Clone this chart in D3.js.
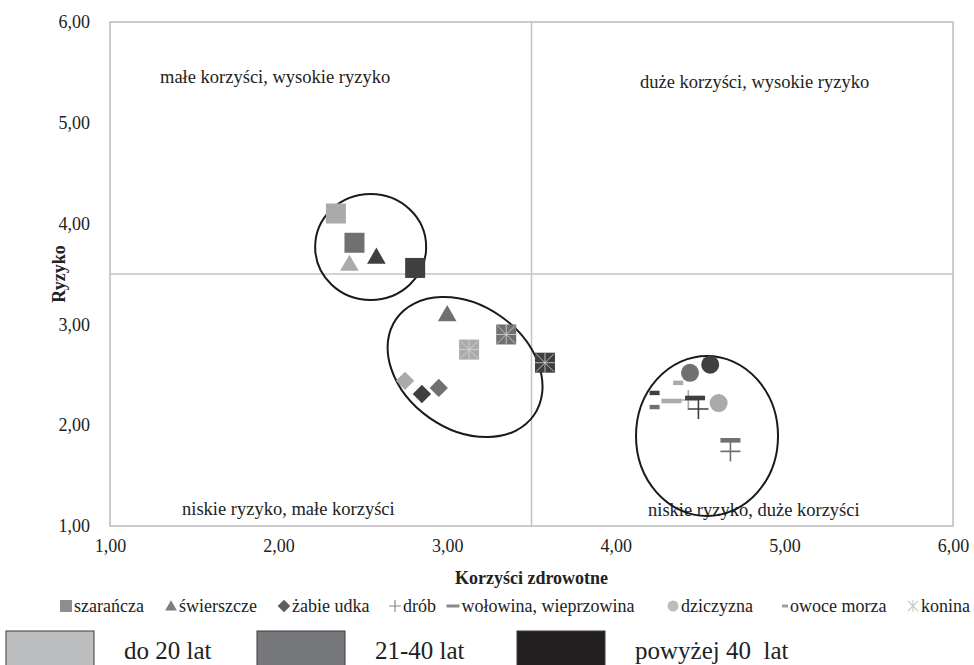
<!DOCTYPE html>
<html>
<head>
<meta charset="utf-8">
<script src="https://cdn.jsdelivr.net/npm/d3@7"></script>
<style>
  html, body { margin: 0; padding: 0; background: #fff; }
  svg { display: block; }
  svg text { font-family: "Liberation Serif", "Times New Roman", serif; }
</style>
</head>
<body>
<svg id="chart" width="974" height="665"></svg>
<script>
// Age groups (series) and product categories
const ageGroups = ["do 20 lat", "21-40 lat", "powyżej 40  lat"];
const products = ["szarańcza", "świerszcze", "żabie udka", "drób", "wołowina, wieprzowina", "dziczyzna", "owoce morza", "konina"];

// Health benefit (x) per product, one value per age group
const benefitSzarancza = [2.34, 2.45, 2.81];
const benefitSwierszcze = [2.42, 3.00, 2.58];
const benefitZabieUdka = [2.75, 2.95, 2.85];
const benefitDrob = [4.43, 4.68, 4.49];
const benefitWolowina = [4.33, 4.68, 4.47];
const benefitDziczyzna = [4.61, 4.44, 4.56];
const benefitOwoceMorza = [4.37, 4.23, 4.23];
const benefitKonina = [3.13, 3.35, 3.58];

// Risk (y) per product, one value per age group
const riskSzarancza = [4.10, 3.81, 3.56];
const riskSwierszcze = [3.60, 3.10, 3.67];
const riskZabieUdka = [2.44, 2.37, 2.31];
const riskDrob = [2.25, 1.74, 2.16];
const riskWolowina = [2.24, 1.85, 2.27];
const riskDziczyzna = [2.22, 2.52, 2.60];
const riskOwoceMorza = [2.42, 2.18, 2.32];
const riskKonina = [2.75, 2.90, 2.62];

const xTicks = [1, 2, 3, 4, 5, 6];
const yTicks = [1, 2, 3, 4, 5, 6];
const quadrantLabels = ["małe korzyści, wysokie ryzyko", "duże korzyści, wysokie ryzyko", "niskie ryzyko, małe korzyści", "niskie ryzyko, duże korzyści"];

const benefits = [benefitSzarancza, benefitSwierszcze, benefitZabieUdka, benefitDrob, benefitWolowina, benefitDziczyzna, benefitOwoceMorza, benefitKonina];
const risks = [riskSzarancza, riskSwierszcze, riskZabieUdka, riskDrob, riskWolowina, riskDziczyzna, riskOwoceMorza, riskKonina];
const markerKinds = ["square", "triangle", "diamond", "plus", "bar", "circle", "dash", "star"];

const points = [];
products.forEach((p, i) => {
  ageGroups.forEach((g, j) => {
    points.push({ product: p, kind: markerKinds[i], age: j, x: benefits[i][j], y: risks[i][j] });
  });
});

const markerColors = ["#a9aaac", "#6f7072", "#3f3f40"];
const boxColors = ["#bcbec0", "#77787b", "#231f20"];
const FONT = "Liberation Serif";

const svg = d3.select("#chart");
const plot = { left: 110, right: 953, top: 22, bottom: 526 };

const x = d3.scaleLinear().domain([1, 6]).range([plot.left, plot.right]);
const y = d3.scaleLinear().domain([1, 6]).range([plot.bottom, plot.top]);

const pl = d3.formatLocale({ decimal: ",", thousands: " ", grouping: [3], currency: ["", " zł"] });
const fmt = pl.format(".2f");

// Plot frame
svg.append("rect")
  .attr("x", plot.left).attr("y", plot.top)
  .attr("width", plot.right - plot.left).attr("height", plot.bottom - plot.top)
  .attr("fill", "none").attr("stroke", "#bcbcbc").attr("stroke-width", 1.5);

// Quadrant dividers at 3.5
svg.append("line")
  .attr("x1", x(3.5)).attr("x2", x(3.5)).attr("y1", plot.top).attr("y2", plot.bottom)
  .attr("stroke", "#c4c4c4").attr("stroke-width", 1.5);
svg.append("line")
  .attr("x1", plot.left).attr("x2", plot.right).attr("y1", y(3.5)).attr("y2", y(3.5))
  .attr("stroke", "#c4c4c4").attr("stroke-width", 1.5);

// Axes (labels only)
const xAxis = svg.append("g")
  .attr("transform", `translate(0,${plot.bottom + 10})`)
  .call(d3.axisBottom(x).tickValues(xTicks).tickFormat(fmt).tickSize(0));
xAxis.attr("font-family", FONT);
xAxis.select(".domain").remove();
xAxis.selectAll("text").attr("font-size", 18).attr("font-family", FONT).attr("fill", "#222");

const yAxis = svg.append("g")
  .attr("transform", `translate(${plot.left - 17},0)`)
  .call(d3.axisLeft(y).tickValues(yTicks).tickFormat(fmt).tickSize(0));
yAxis.attr("font-family", FONT);
yAxis.select(".domain").remove();
yAxis.selectAll("text").attr("font-size", 18).attr("font-family", FONT).attr("fill", "#222");

// Axis titles
svg.append("text")
  .attr("x", (plot.left + plot.right) / 2).attr("y", 584)
  .attr("text-anchor", "middle").attr("font-family", FONT).attr("font-size", 18).attr("font-weight", "bold").attr("fill", "#222")
  .text("Korzyści zdrowotne");
svg.append("text")
  .attr("transform", `translate(65,${(plot.top + plot.bottom) / 2}) rotate(-90)`)
  .attr("text-anchor", "middle").attr("font-family", FONT).attr("font-size", 18).attr("font-weight", "bold").attr("fill", "#222")
  .text("Ryzyko");

// Quadrant captions (left edge in px)
const qPos = [
  { x: 160, y: 83 }, { x: 640, y: 88 },
  { x: 182, y: 515 }, { x: 648, y: 516 }
];
quadrantLabels.forEach((t, i) => {
  svg.append("text")
    .attr("x", qPos[i].x).attr("y", qPos[i].y)
    .attr("font-family", FONT).attr("font-size", 18.5).attr("fill", "#222")
    .text(t);
});

// Ellipses grouping the clusters (centres in data units, radii in px)
const ellipses = [
  { cx: 2.546, cy: 3.768, rx: 55.5, ry: 53, angle: 0 },
  { cx: 3.106, cy: 2.577, rx: 84, ry: 62, angle: 35 },
  { cx: 4.541, cy: 1.893, rx: 71, ry: 80, angle: 0 }
];
svg.append("g").selectAll("ellipse").data(ellipses).join("ellipse")
  .attr("transform", d => `translate(${x(d.cx)},${y(d.cy)}) rotate(${d.angle})`)
  .attr("rx", d => d.rx).attr("ry", d => d.ry)
  .attr("fill", "none").attr("stroke", "#1a1a1a").attr("stroke-width", 2);

// Marker drawing
function drawMarker(g, kind, color) {
  if (kind === "square") {
    g.append("rect").attr("x", -10).attr("y", -10).attr("width", 20).attr("height", 20).attr("fill", color);
  } else if (kind === "triangle") {
    g.append("path").attr("d", d3.symbol(d3.symbolTriangle, 150)()).attr("transform", "translate(0,1.5)").attr("fill", color);
  } else if (kind === "diamond") {
    g.append("rect").attr("x", -6.5).attr("y", -6.5).attr("width", 13).attr("height", 13)
      .attr("transform", "rotate(45)").attr("fill", color);
  } else if (kind === "plus") {
    g.append("path").attr("d", "M-10,0H10M0,-10V10").attr("stroke", color).attr("stroke-width", 1.6).attr("fill", "none");
  } else if (kind === "bar") {
    g.append("rect").attr("x", -10).attr("y", -2.3).attr("width", 20).attr("height", 4.6).attr("fill", color);
  } else if (kind === "circle") {
    g.append("circle").attr("r", 9).attr("fill", color);
  } else if (kind === "dash") {
    g.append("rect").attr("x", -5).attr("y", -2.2).attr("width", 10).attr("height", 4.4).attr("fill", color);
  } else if (kind === "star") {
    g.append("rect").attr("x", -10).attr("y", -10).attr("width", 20).attr("height", 20).attr("fill", color);
    g.append("path")
      .attr("d", "M-9,-9L9,9M-9,9L9,-9M0,-10V10M-10,0H10")
      .attr("stroke", "#d8d8d8").attr("stroke-opacity", 0.8).attr("stroke-width", 1).attr("fill", "none");
  }
}

const marks = svg.append("g");
points.forEach(d => {
  const g = marks.append("g").attr("transform", `translate(${x(d.x)},${y(d.y)})`);
  drawMarker(g, d.kind, markerColors[d.age]);
});

// Product legend
const legendColors = ["#8d8e90", "#7d7e80", "#5c5d5f", "#8a8a8a", "#8a8a8a", "#bdbdbd", "#a0a0a0", "#c8c8c8"];
const legendMarkerX = [66, 171, 284, 395, 453, 673, 785, 913];
const legendY = 606;
products.forEach((p, i) => {
  const g = svg.append("g").attr("transform", `translate(${legendMarkerX[i]},${legendY})`);
  const k = markerKinds[i];
  if (k === "square") g.append("rect").attr("x", -6).attr("y", -6).attr("width", 12).attr("height", 12).attr("fill", legendColors[i]);
  else if (k === "triangle") g.append("path").attr("d", d3.symbol(d3.symbolTriangle, 60)()).attr("transform", "translate(0,1)").attr("fill", legendColors[i]);
  else if (k === "diamond") g.append("rect").attr("x", -4.5).attr("y", -4.5).attr("width", 9).attr("height", 9).attr("transform", "rotate(45)").attr("fill", legendColors[i]);
  else if (k === "plus") g.append("path").attr("d", "M-6,0H6M0,-6V6").attr("stroke", legendColors[i]).attr("stroke-width", 1.2);
  else if (k === "bar") g.append("rect").attr("x", -6.5).attr("y", -1.5).attr("width", 13).attr("height", 3).attr("fill", legendColors[i]);
  else if (k === "circle") g.append("circle").attr("r", 5.5).attr("fill", legendColors[i]);
  else if (k === "dash") g.append("rect").attr("x", -3).attr("y", -1.5).attr("width", 6).attr("height", 3).attr("fill", legendColors[i]);
  else if (k === "star") g.append("path").attr("d", "M-5,-5L5,5M-5,5L5,-5M0,-6V6").attr("stroke", legendColors[i]).attr("stroke-width", 1.1);
  const half = (k === "bar") ? 6.5 : (k === "dash") ? 3 : 6;
  svg.append("text")
    .attr("x", legendMarkerX[i] + half + 2).attr("y", legendY + 6)
    .attr("font-family", FONT).attr("font-size", 18).attr("fill", "#222")
    .text(p);
});

// Age group legend
const boxX = [6, 257, 517];
ageGroups.forEach((g, i) => {
  svg.append("rect")
    .attr("x", boxX[i]).attr("y", 631).attr("width", 88).attr("height", 40)
    .attr("fill", boxColors[i]).attr("stroke", "#3a3a3a").attr("stroke-width", 1);
  svg.append("text")
    .attr("x", boxX[i] + 118).attr("y", 659)
    .attr("font-family", FONT).attr("font-size", 25).attr("fill", "#222")
    .style("white-space", "pre")
    .text(g);
});
</script>
</body>
</html>
